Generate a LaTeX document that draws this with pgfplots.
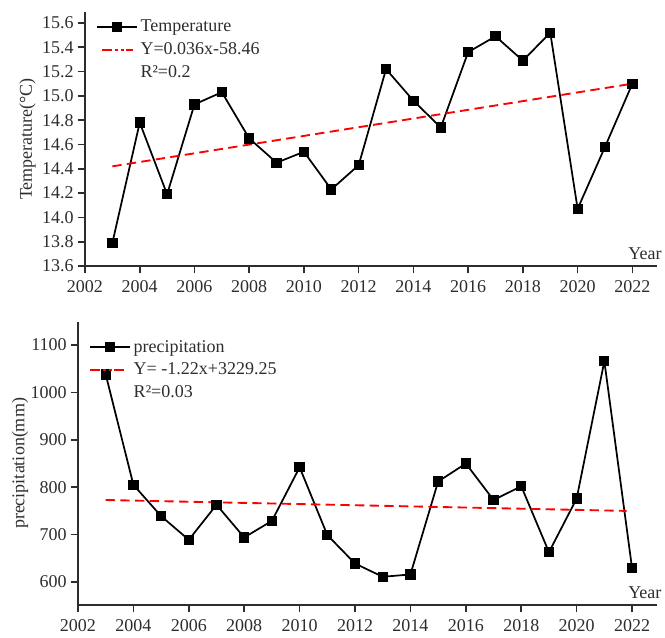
\documentclass[border=0pt]{standalone}
\usepackage{fontspec}
\setmainfont{Liberation Serif}
\usepackage{pgfplots}
\pgfplotsset{compat=1.18}
\definecolor{txt}{RGB}{45,45,45}
\pgfplotsset{
  common/.style={
    scale only axis,
    axis lines*=left,
    xmin=2002, xmax=2022.9,
    xtick={2002,2004,...,2022},
    tick align=outside,
    major tick length=5.5pt,
    minor tick num=0,
    axis line style={txt, line width=1.4pt},
    tick style={txt, line width=1.2pt},
    tick label style={txt},
    /pgf/number format/assume math mode=true,
    /pgf/number format/set thousands separator={},
    xtick pos=bottom, ytick pos=left,
    font=\fontsize{13.5}{16}\selectfont,
    xticklabel style={yshift=-1.5pt},
    yticklabel style={xshift=0.5pt},
    xlabel={Year},
    xlabel style={at={(rel axis cs:0.979,0)}, anchor=south, yshift=1pt, txt},
    ylabel style={txt, font=\fontsize{13.5}{16}\selectfont},
    legend cell align=left,
    legend style={draw=none, fill=none, font=\fontsize{13.5}{16}\selectfont, text=txt, row sep=2.5pt},
    data/.style={black, line width=1.3pt, mark=square*, mark size=3.2pt, mark options={solid}},
    trend/.style={red, line width=1.4pt, dash pattern=on 7pt off 4pt},
  }
}
\begin{document}
\begin{tikzpicture}
\useasboundingbox (0,0) rectangle (498.75pt,-477.75pt);
\begin{axis}[common,
  at={(63.75pt,-199.5pt)}, anchor=south west,
  width=429pt, height=190.5pt,
  ymin=13.6, ymax=15.69,
  ytick={13.6,13.8,...,15.61},
  yticklabel style={/pgf/number format/.cd, fixed, fixed zerofill, precision=1},
  ylabel={Temperature(°C)},
  ylabel style={yshift=-2pt},
  legend style={at={(rel axis cs:0.012,0.99)}, anchor=north west},
]
\addplot[data, legend image code/.code={\draw[mark repeat=2,mark phase=2] plot coordinates {(0pt,0pt)(15pt,0pt)(30pt,0pt)};}] coordinates {
(2003,13.79) (2004,14.78) (2005,14.19) (2006,14.93) (2007,15.03)
(2008,14.65) (2009,14.45) (2010,14.54) (2011,14.23) (2012,14.43)
(2013,15.22) (2014,14.96) (2015,14.74) (2016,15.36) (2017,15.49)
(2018,15.29) (2019,15.52) (2020,14.07) (2021,14.58) (2022,15.10)
};
\addlegendentry{Temperature}
\addplot[trend, forget plot] coordinates {(2003,14.42) (2022,15.10)};
\addlegendimage{red, line width=1.5pt,
  legend image code/.code={\draw[red, line width=1.5pt, dash pattern=on 7pt off 2.5pt on 2pt off 2.5pt on 2pt off 2pt] (4pt,0pt) -- (27pt,0pt);}}
\addlegendentry{Y=0.036x-58.46}
\addlegendimage{empty legend}
\addlegendentry{R²=0.2}
\end{axis}
\begin{axis}[common,
  at={(58.5pt,-453.75pt)}, anchor=south west,
  width=434.25pt, height=212.25pt,
  ymin=551.5, ymax=1148.5,
  ytick={600,700,...,1100},
  ylabel={precipitation(mm)},
  ylabel style={yshift=-5pt},
  legend style={at={(rel axis cs:0.012,0.955)}, anchor=north west},
]
\addplot[data, legend image code/.code={\draw[mark repeat=2,mark phase=2] plot coordinates {(0pt,0pt)(15pt,0pt)(30pt,0pt)};}] coordinates {
(2003,1038) (2004,805) (2005,739) (2006,689) (2007,763)
(2008,694) (2009,729) (2010,842) (2011,699) (2012,639)
(2013,611) (2014,616) (2015,812) (2016,850) (2017,773)
(2018,802) (2019,663) (2020,776) (2021,1066) (2022,629)
};
\addlegendentry{precipitation}
\addplot[trend, forget plot] coordinates {(2003,773) (2021.8,750)};
\addlegendimage{red, line width=1.5pt,
  legend image code/.code={\draw[red, line width=1.5pt, dash pattern=on 7pt off 2.5pt on 2pt off 2.5pt on 2pt off 2pt] (0pt,0pt) -- (25pt,0pt);}}
\addlegendentry{Y= -1.22x+3229.25}
\addlegendimage{empty legend}
\addlegendentry{R²=0.03}
\end{axis}
\end{tikzpicture}
\end{document}
